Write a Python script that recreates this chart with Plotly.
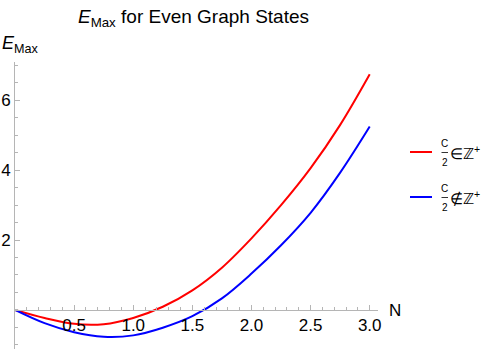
import plotly.graph_objects as go

# Data
N_vals = [0.0, 0.25, 0.5, 0.75, 1.0, 1.25, 1.5, 1.75, 2.0, 2.25, 2.5, 2.75, 3.0]
E_even = [0.0, -0.23, -0.40, -0.41, -0.23, 0.09, 0.56, 1.21, 2.05, 3.00, 4.06, 5.30, 6.75]
E_odd = [0.0, -0.38, -0.64, -0.77, -0.73, -0.51, -0.18, 0.33, 1.04, 1.85, 2.78, 3.93, 5.25]

legend_relations = ["∈", "∉"]
series_colors = ["#ff0000", "#0000ff"]

x_ticks = [0.5, 1.0, 1.5, 2.0, 2.5, 3.0]
x_tick_text = ["0.5", "1.0", "1.5", "2.0", "2.5", "3.0"]
y_ticks = [2, 4, 6]
y_tick_text = ["2", "4", "6"]

x_range = [0, 3.07]
y_range = [-1.12, 7.1]

FONT = "Liberation Sans Narrow, Arial Narrow, Liberation Sans, sans-serif"
AXIS_GREY = "#b5b5b5"

W, H = 487, 355
ML, MR, MT, MB = 15, 109, 62, 6
PW, PH = W - ML - MR, H - MT - MB


def px_x(p):
    return (p - ML) / PW


def px_y(p):
    return (H - MB - p) / PH


fig = go.Figure()
for ys, col in zip([E_even, E_odd], series_colors):
    fig.add_trace(go.Scatter(
        x=N_vals, y=ys, mode="lines", showlegend=False,
        line=dict(color=col, width=2, shape="spline", smoothing=1.0),
        hoverinfo="skip",
    ))

zero_frac = (0 - y_range[0]) / (y_range[1] - y_range[0])

annotations = [
    dict(text="<i>E</i><sub>Max</sub>", xref="paper", yref="paper",
         x=px_x(0), y=px_y(44), xanchor="left", yanchor="middle",
         showarrow=False, font=dict(size=18, family=FONT)),
    dict(text="N", xref="paper", yref="paper",
         x=px_x(387), y=px_y(310), xanchor="left", yanchor="middle",
         showarrow=False, font=dict(size=17, family=FONT)),
]
shapes = []
legend_rows = [152, 197]
for row_y, rel, col in zip(legend_rows, legend_relations, series_colors):
    shapes.append(dict(type="line", xref="paper", yref="paper",
                       x0=px_x(410), x1=px_x(432), y0=px_y(row_y), y1=px_y(row_y),
                       line=dict(color=col, width=2)))
    shapes.append(dict(type="line", xref="paper", yref="paper",
                       x0=px_x(441.5), x1=px_x(448), y0=px_y(row_y + 0.5), y1=px_y(row_y + 0.5),
                       line=dict(color="black", width=0.8)))
    annotations.append(dict(text="C", xref="paper", yref="paper",
                            x=px_x(444.8), y=px_y(row_y - 8.5), xanchor="center", yanchor="middle",
                            showarrow=False, font=dict(size=10, family=FONT)))
    annotations.append(dict(text="2", xref="paper", yref="paper",
                            x=px_x(444.8), y=px_y(row_y + 10.5), xanchor="center", yanchor="middle",
                            showarrow=False, font=dict(size=10, family=FONT)))
    annotations.append(dict(text=rel + "ℤ<sup>+</sup>", xref="paper", yref="paper",
                            x=px_x(447.5), y=px_y(row_y), xanchor="left", yanchor="middle",
                            showarrow=False, font=dict(size=15, family=FONT)))

fig.update_layout(
    width=W, height=H,
    margin=dict(l=ML, r=MR, t=MT, b=MB, autoexpand=False),
    paper_bgcolor="white", plot_bgcolor="white",
    font=dict(family=FONT, size=17, color="black"),
    title=dict(
        text="<i>E</i><sub>Max</sub> for Even Graph States",
        x=193.5 / W, xanchor="center", xref="container",
        y=1 - 16 / H, yanchor="middle", yref="container",
        font=dict(size=19, family=FONT, color="black"),
        automargin=False,
    ),
    showlegend=False,
    xaxis=dict(
        range=x_range, showgrid=False, zeroline=False,
        showline=True, linecolor=AXIS_GREY, linewidth=1,
        anchor="free", position=zero_frac,
        tickvals=x_ticks, ticktext=x_tick_text,
        ticks="inside", ticklen=5, tickcolor=AXIS_GREY,
        minor=dict(dtick=0.1, tick0=0, ticks="inside", ticklen=3, tickcolor=AXIS_GREY),
        tickfont=dict(size=17, family=FONT), automargin=False,
    ),
    yaxis=dict(
        range=y_range, showgrid=False, zeroline=False,
        showline=True, linecolor=AXIS_GREY, linewidth=1,
        tickvals=y_ticks, ticktext=y_tick_text,
        ticks="inside", ticklen=5, tickcolor=AXIS_GREY,
        minor=dict(dtick=0.5, tick0=0, ticks="inside", ticklen=3, tickcolor=AXIS_GREY),
        tickfont=dict(size=17, family=FONT), automargin=False,
    ),
    annotations=annotations,
    shapes=shapes,
)

fig.write_html("out.html", config={"displayModeBar": False},
               post_script="document.body.style.margin='0';")
